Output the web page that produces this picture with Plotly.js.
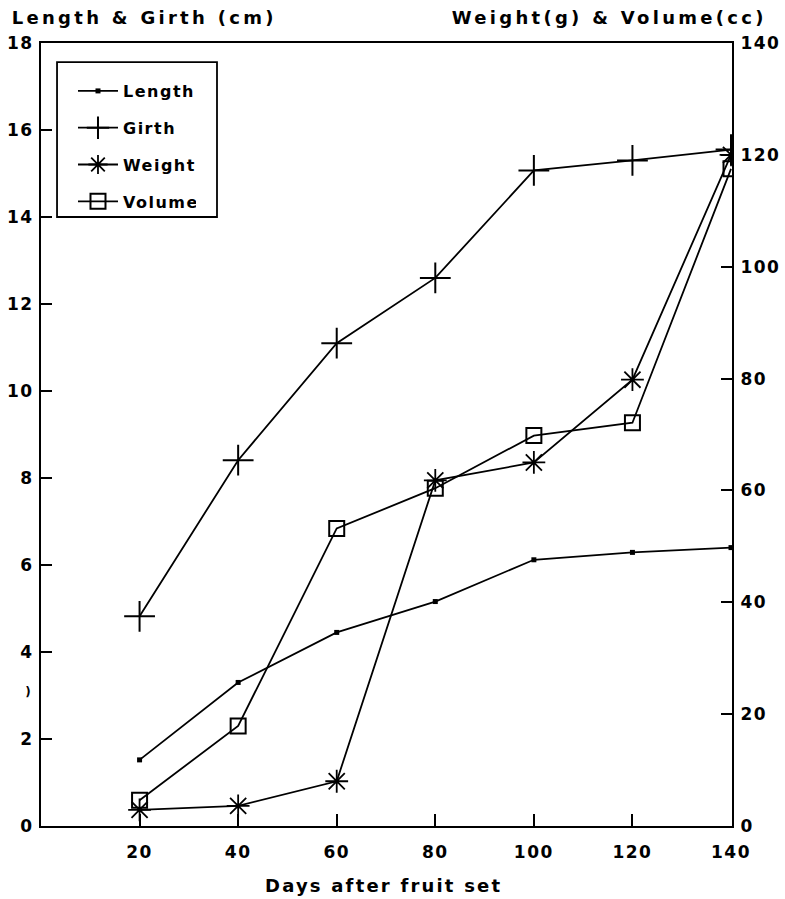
<!DOCTYPE html>
<html>
<head>
<meta charset="utf-8">
<script src="https://cdn.plot.ly/plotly-3.0.1.min.js"></script>
<style>
  html, body { margin: 0; padding: 0; background: #fff; }
  #chart { width: 785px; height: 899px; }
  #chart text { letter-spacing: 1.5px; }
  #chart g.annotation[data-index="0"] text,
  #chart g.annotation[data-index="1"] text { letter-spacing: 3.3px; }
  #chart g.annotation[data-index="2"] text { letter-spacing: 2.2px; }
</style>
</head>
<body>
<div id="chart"></div>
<script>
// Data
const days = [20, 40, 60, 80, 100, 120, 140];
const lengthCm = [1.52, 3.3, 4.45, 5.16, 6.12, 6.29, 6.4];
const girthCm = [4.82, 8.41, 11.1, 12.6, 15.07, 15.3, 15.55];
const weightG = [2.9, 3.6, 8.0, 61.8, 65.0, 79.8, 120.0];
const volumeCc = [4.6, 17.9, 53.2, 60.4, 69.8, 72.1, 117.5];

const xTicks = [20, 40, 60, 80, 100, 120, 140];
const leftTicks = [0, 2, 4, 6, 8, 10, 12, 14, 16, 18];
const rightTicks = [0, 20, 40, 60, 80, 100, 120, 140];

const FONT = 'DejaVu Sans, Arial, sans-serif';
const lineStyle = { color: '#000', width: 1.8 };

const traces = [
  {
    x: days, y: lengthCm, name: 'Length', yaxis: 'y', legendgroup: 'a',
    mode: 'lines+markers', line: lineStyle,
    marker: { symbol: 'square', size: 5, color: '#000' }
  },
  {
    x: days, y: girthCm, name: 'Girth', yaxis: 'y', legendgroup: 'b',
    mode: 'lines+markers', line: lineStyle,
    marker: { symbol: 'cross-thin-open', size: 22, color: '#000', line: { color: '#000', width: 2 } }
  },
  {
    x: days, y: weightG, name: 'Weight', yaxis: 'y2', legendgroup: 'c',
    mode: 'lines+markers', line: lineStyle,
    marker: { symbol: 'asterisk-open', size: 19, color: '#000', line: { color: '#000', width: 1.8 } }
  },
  {
    x: days, y: volumeCc, name: 'Volume', yaxis: 'y2', legendgroup: 'd',
    mode: 'lines+markers', line: lineStyle,
    marker: { symbol: 'square-open', size: 15, color: '#000', line: { color: '#000', width: 2 } }
  }
];

const tickFont = { family: FONT, size: 17, color: '#000', weight: 'bold' };
const titleFont = { family: FONT, size: 18, color: '#000', weight: 'bold' };

const layout = {
  width: 785, height: 899,
  paper_bgcolor: '#fff', plot_bgcolor: '#fff',
  margin: { l: 41, r: 53, t: 43, b: 73 },
  showlegend: true,
  font: { family: FONT, color: '#000' },
  xaxis: {
    range: [0, 140.2], tickvals: xTicks, ticktext: xTicks.map(String),
    ticks: 'inside', ticklen: 12, tickwidth: 2, tickcolor: '#000',
    showline: true, linecolor: '#000', linewidth: 2, mirror: true,
    showgrid: false, zeroline: false, tickfont: tickFont, ticklabelstandoff: 10
  },
  yaxis: {
    range: [0, 18], tickvals: leftTicks, ticktext: leftTicks.map(String),
    ticks: 'inside', ticklen: 11, tickwidth: 2, tickcolor: '#000',
    showline: true, linecolor: '#000', linewidth: 2, mirror: true,
    showgrid: false, zeroline: false, tickfont: tickFont, ticklabelstandoff: 2
  },
  yaxis2: {
    range: [0, 140], tickvals: rightTicks, ticktext: rightTicks.map(String),
    overlaying: 'y', side: 'right',
    ticks: 'inside', ticklen: 11, tickwidth: 2, tickcolor: '#000',
    showline: true, linecolor: '#000', linewidth: 2,
    showgrid: false, zeroline: false, tickfont: tickFont, ticklabelstandoff: 3
  },
  shapes: [
    { type: 'rect', xref: 'paper', yref: 'paper', layer: 'above',
      x0: 0.0232, x1: 0.2547, y0: 0.7778, y1: 0.9757,
      line: { color: '#000', width: 1.8 }, fillcolor: '#fff' }
  ],
  legend: {
    x: 0.0463, y: 0.9604, xanchor: 'left', yanchor: 'top',
    bgcolor: 'rgba(0,0,0,0)', borderwidth: 0,
    font: { family: FONT, size: 16, color: '#000', weight: 'bold' },
    tracegroupgap: 13, itemwidth: 40
  },
  annotations: [
    { text: 'Length & Girth (cm)', xref: 'paper', yref: 'paper', x: 0.149, y: 1.032,
      xanchor: 'center', yanchor: 'middle', showarrow: false, font: titleFont },
    { text: 'Weight(g) & Volume(cc)', xref: 'paper', yref: 'paper', x: 0.822, y: 1.032,
      xanchor: 'center', yanchor: 'middle', showarrow: false, font: titleFont },
    { text: 'Days after fruit set', xref: 'paper', yref: 'paper', x: 0.496, y: -0.0766,
      xanchor: 'center', yanchor: 'middle', showarrow: false, font: titleFont },
    { text: ')', xref: 'paper', yref: 'paper', x: -0.0188, y: 0.171,
      xanchor: 'center', yanchor: 'middle', showarrow: false,
      font: { family: FONT, size: 12, color: '#000', weight: 'bold' } }
  ]
};

Plotly.newPlot('chart', traces, layout, { displayModeBar: false, staticPlot: true });
</script>
</body>
</html>
